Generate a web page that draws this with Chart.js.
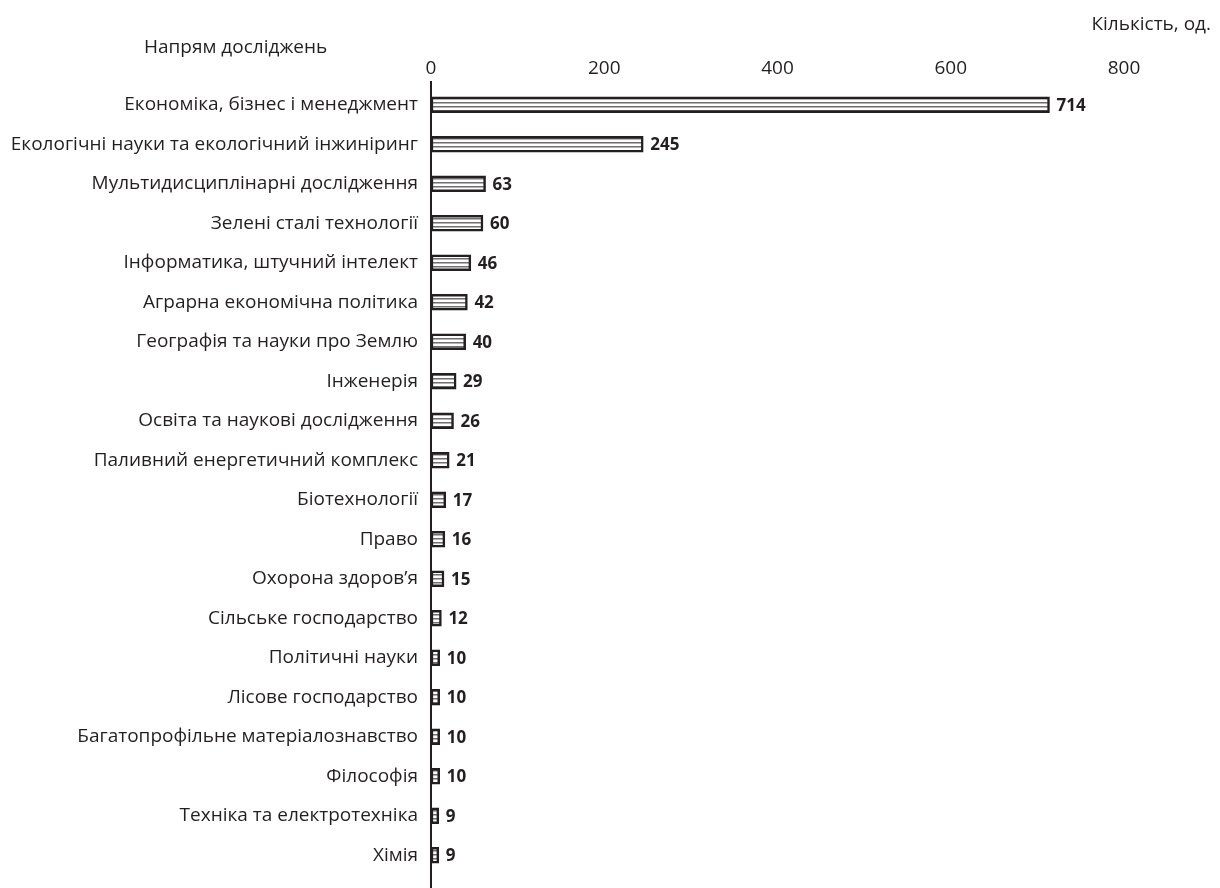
<!DOCTYPE html>
<html lang="uk">
<head>
<meta charset="utf-8">
<title>Напрям досліджень</title>
<script src="https://cdn.jsdelivr.net/npm/chart.js@4.4.1/dist/chart.umd.min.js"></script>
<style>
  html, body { margin: 0; padding: 0; background: #ffffff; }
  #wrap { position: relative; width: 1220px; height: 888px; }
</style>
</head>
<body>
<div id="wrap"><canvas id="chart" width="1220" height="888"></canvas></div>
<script>
// Research directions and publication counts
const categories = [
  'Економіка, бізнес і менеджмент',
  'Екологічні науки та екологічний інжиніринг',
  'Мультидисциплінарні дослідження',
  'Зелені сталі технології',
  'Інформатика, штучний інтелект',
  'Аграрна економічна політика',
  'Географія та науки про Землю',
  'Інженерія',
  'Освіта та наукові дослідження',
  'Паливний енергетичний комплекс',
  'Біотехнології',
  'Право',
  'Охорона здоров’я',
  'Сільське господарство',
  'Політичні науки',
  'Лісове господарство',
  'Багатопрофільне матеріалознавство',
  'Філософія',
  'Техніка та електротехніка',
  'Хімія'
];
const counts = [714, 245, 63, 60, 46, 42, 40, 29, 26, 21, 17, 16, 15, 12, 10, 10, 10, 10, 9, 9];
const xTicks = [0, 200, 400, 600, 800];

const FONT = '"Open Sans", "DejaVu Sans", sans-serif';
const INK = '#231f20';

// Horizontal hatch fill for the bars
function hatchPattern(ctx) {
  const c = document.createElement('canvas');
  c.width = 4; c.height = 4;
  const p = c.getContext('2d');
  p.fillStyle = '#ffffff';
  p.fillRect(0, 0, 4, 4);
  p.fillStyle = '#707070';
  p.fillRect(0, 2, 4, 1);
  p.fillStyle = '#b4b4b4';
  p.fillRect(0, 3, 4, 1);
  return ctx.createPattern(c, 'repeat');
}

const ctx = document.getElementById('chart').getContext('2d');

// Vertical axis line, axis captions and value labels
const decor = {
  id: 'decor',
  afterDatasetsDraw(chart) {
    const { ctx, chartArea } = chart;
    ctx.save();
    ctx.strokeStyle = INK;
    ctx.lineWidth = 2;
    ctx.beginPath();
    ctx.moveTo(chartArea.left, chartArea.top - 4);
    ctx.lineTo(chartArea.left, chart.height);
    ctx.stroke();

    const meta = chart.getDatasetMeta(0);
    ctx.fillStyle = INK;
    ctx.font = 'bold 17px ' + FONT;
    ctx.textAlign = 'left';
    ctx.textBaseline = 'middle';
    meta.data.forEach((bar, i) => {
      ctx.fillText(String(counts[i]), bar.x + 7, bar.y + 1);
    });

    ctx.font = '19px ' + FONT;
    ctx.textAlign = 'left';
    ctx.fillText('Напрям досліджень', 144, 48);
    ctx.textAlign = 'right';
    ctx.fillText('Кількість, од.', 1211, 25);
    ctx.restore();
  }
};

new Chart(ctx, {
  type: 'bar',
  data: {
    labels: categories,
    datasets: [{
      data: counts,
      backgroundColor: hatchPattern(ctx),
      borderColor: INK,
      borderWidth: 2.5,
      borderSkipped: false,
      barThickness: 16
    }]
  },
  options: {
    indexAxis: 'y',
    responsive: false,
    animation: false,
    layout: { padding: { left: 0, right: 96, top: 0, bottom: 13 } },
    plugins: { legend: { display: false }, tooltip: { enabled: false } },
    scales: {
      x: {
        position: 'top',
        min: 0,
        max: 800,
        afterBuildTicks(scale) { scale.ticks = xTicks.map(v => ({ value: v })); },
        afterFit(scale) { scale.height = 85; },
        grid: { display: false, drawTicks: false },
        border: { display: false },
        ticks: { color: INK, font: { family: FONT, size: 19 }, padding: 5 }
      },
      y: {
        afterFit(scale) {
          scale.width = 431;
          scale.paddingTop = 0;
          scale.paddingBottom = 0;
        },
        grid: { display: false, drawTicks: false },
        border: { display: false },
        ticks: { color: INK, font: { family: FONT, size: 19 }, padding: 13 }
      }
    }
  },
  plugins: [decor]
});
</script>
</body>
</html>
